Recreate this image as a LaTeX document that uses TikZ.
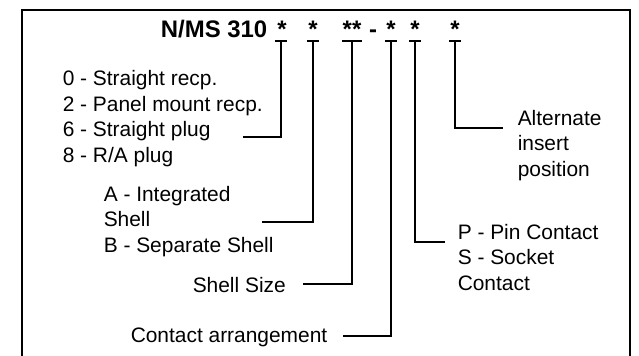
\documentclass[tikz,border=0pt]{standalone}
\usepackage{fontspec}
\setmainfont{Liberation Sans}
\usetikzlibrary{calc}

\begin{document}
\begin{tikzpicture}[
  x=1bp,y=-1bp,line width=1.5bp,
  lab/.style={font=\fontsize{21}{25.5}\selectfont,inner sep=0pt,anchor=base west,align=left},
  head/.style={font=\bfseries\fontsize{24}{28}\selectfont,inner sep=0pt,anchor=base},
  bar/.style={line width=2.6bp},
  frame/.style={line width=2.6bp}
]
\useasboundingbox (0,0) rectangle (639,355);
\draw[frame] (22,356) -- (22,10) -- (630,10) -- (630,356);

% part number
\node[head,anchor=base east] (title) at (268,37) {N/MS 310};
\node[head] (s1) at (282,37) {*};
\node[head] (s2) at (313,37) {*};
\node[head] (s3) at (352,37) {**};
\node[head] (dash) at (373,37) {-};
\node[head] (s4) at (391,37) {*};
\node[head] (s5) at (415,37) {*};
\node[head] (s6) at (455,37) {*};

% bars under the stars
\coordinate (b1) at (281,41);
\coordinate (b2) at (313,41);
\coordinate (b3) at (352,41);
\coordinate (b4) at (391,41);
\coordinate (b5) at (415,41);
\coordinate (b6) at (455,41);
\foreach \b in {b1,b2,b4,b5,b6}
  \draw[bar] ($(\b)+(-6,0)$) -- ($(\b)+(6,0)$);
\draw[bar] ($(b3)+(-10,0)$) -- ($(b3)+(10,0)$);

% texts (base = last line)
\node[lab] (style) at (62,162) {0 - Straight recp.\\2 - Panel mount recp.\\6 - Straight plug\\8 - R/A plug};
\node[lab] (shell) at (103,252) {A - Integrated\\Shell\\B - Separate Shell};
\node[lab] (size) at (192,292) {Shell Size};
\node[lab] (arr) at (130,342) {Contact arrangement};
\node[lab] (alt) at (517,176) {Alternate\\insert\\position};
\node[lab] (cont) at (457,290) {P - Pin Contact\\S - Socket\\Contact};

% leads
\coordinate (e1) at (243,137);
\coordinate (e2) at (262,222);
\coordinate (e3) at (303,284);
\coordinate (e4) at (343,336);
\coordinate (e5) at (445,242);
\coordinate (e6) at (503,128);
\draw (b1) |- (e1);
\draw (b2) |- (e2);
\draw (b3) |- (e3);
\draw (b4) |- (e4);
\draw (b5) |- (e5);
\draw (b6) |- (e6);
\end{tikzpicture}
\end{document}
